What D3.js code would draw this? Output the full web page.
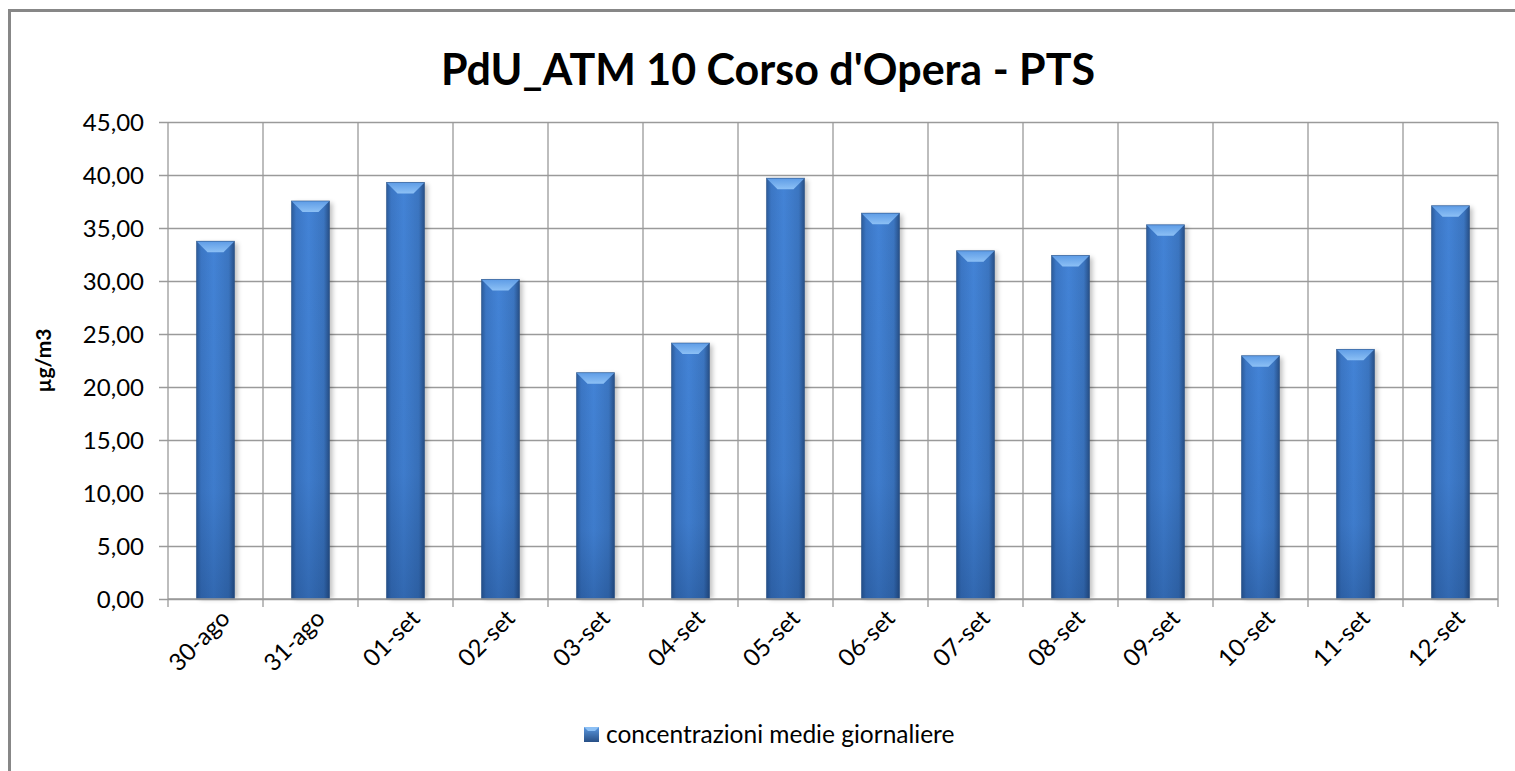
<!DOCTYPE html>
<html lang="it">
<head>
<meta charset="UTF-8">
<title>PdU_ATM 10 Corso d'Opera - PTS</title>
<script src="https://d3js.org/d3.v7.min.js"></script>
<style>
  body { margin: 0; background: #fff; }
  text { font-family: Lato, "Open Sans", sans-serif; fill: #000; }
</style>
</head>
<body>
<div id="chart"></div>
<script>
const days = ["30-ago", "31-ago", "01-set", "02-set", "03-set", "04-set", "05-set",
              "06-set", "07-set", "08-set", "09-set", "10-set", "11-set", "12-set"];
const values = [33.75, 37.55, 39.3, 30.15, 21.35, 24.15, 39.7,
                36.4, 32.85, 32.4, 35.3, 22.95, 23.55, 37.1];
const yTicks = [0, 5, 10, 15, 20, 25, 30, 35, 40, 45];
const seriesName = "concentrazioni medie giornaliere";

const width = 1515, height = 771;
const plot = { left: 168, right: 1498, top: 122, bottom: 599 };

const svg = d3.select("#chart").append("svg")
    .attr("width", width)
    .attr("height", height);

const defs = svg.append("defs");

// horizontal shading of the bar body
const body = defs.append("linearGradient").attr("id", "barBody")
    .attr("x1", 0).attr("x2", 1).attr("y1", 0).attr("y2", 0);
body.append("stop").attr("offset", "0%").attr("stop-color", "#2c5b99");
body.append("stop").attr("offset", "12%").attr("stop-color", "#3b76c4");
body.append("stop").attr("offset", "45%").attr("stop-color", "#4383d6");
body.append("stop").attr("offset", "85%").attr("stop-color", "#3b75c0");
body.append("stop").attr("offset", "100%").attr("stop-color", "#274f86");

// darkening toward the base
const fade = defs.append("linearGradient").attr("id", "barFade")
    .attr("x1", 0).attr("x2", 0).attr("y1", 0).attr("y2", 1);
fade.append("stop").attr("offset", "0%").attr("stop-color", "#0a2a5a").attr("stop-opacity", 0);
fade.append("stop").attr("offset", "70%").attr("stop-color", "#0a2a5a").attr("stop-opacity", 0.08);
fade.append("stop").attr("offset", "100%").attr("stop-color", "#0a2a5a").attr("stop-opacity", 0.3);

// top bevel
const bevel = defs.append("linearGradient").attr("id", "barTop")
    .attr("x1", 0).attr("x2", 0).attr("y1", 0).attr("y2", 1);
bevel.append("stop").attr("offset", "0%").attr("stop-color", "#5e9ce6");
bevel.append("stop").attr("offset", "100%").attr("stop-color", "#8cc0f5");

const shadow = defs.append("filter").attr("id", "shadow")
    .attr("x", "-30%").attr("y", "-10%").attr("width", "160%").attr("height", "120%");
shadow.append("feGaussianBlur").attr("stdDeviation", 2.5);

// legend marker gradient
const mark = defs.append("linearGradient").attr("id", "markFill")
    .attr("x1", 0).attr("x2", 0).attr("y1", 0).attr("y2", 1);
mark.append("stop").attr("offset", "0%").attr("stop-color", "#5b98e0");
mark.append("stop").attr("offset", "100%").attr("stop-color", "#274f86");

// chart frame (left and top edges visible)
svg.append("path")
    .attr("d", `M9.5,${height} V10.5 H${width}`)
    .attr("fill", "none")
    .attr("stroke", "#878787")
    .attr("stroke-width", 3);

const x = d3.scaleBand()
    .domain(days)
    .range([plot.left, plot.right])
    .paddingInner(0.6)
    .paddingOuter(0.3);

const y = d3.scaleLinear()
    .domain([0, 45])
    .range([plot.bottom, plot.top]);

const gridColor = "#9a9a9a";

// horizontal gridlines + y axis labels
const yAxis = d3.axisLeft(y)
    .tickValues(yTicks)
    .tickSize(-(plot.right - plot.left))
    .tickPadding(0)
    .tickFormat(d => d3.format(".2f")(d).replace(".", ","));

const gy = svg.append("g")
    .attr("transform", `translate(${plot.left},0)`)
    .call(yAxis);
gy.select(".domain").remove();
gy.selectAll(".tick line")
    .attr("x1", -9)
    .attr("stroke", gridColor)
    .attr("stroke-width", 1.3);
gy.selectAll(".tick text")
    .attr("x", -24)
    .attr("dy", "0.34em")
    .style("font-size", "24px")
    .style("font-family", "Lato, sans-serif")
    .attr("fill", "#000");

// vertical gridlines at category boundaries
const bounds = d3.range(days.length + 1).map(i => plot.left + i * x.step());
svg.append("g").selectAll("line")
    .data(bounds)
    .join("line")
    .attr("x1", d => d).attr("x2", d => d)
    .attr("y1", plot.top).attr("y2", plot.bottom + 8)
    .attr("stroke", gridColor)
    .attr("stroke-width", 1.3);

// bars
const bars = svg.append("g").selectAll("g")
    .data(days.map((d, i) => ({ day: d, v: values[i] })))
    .join("g");

bars.append("rect")
    .attr("x", d => x(d.day) + 3)
    .attr("y", d => y(d.v) + 2)
    .attr("width", x.bandwidth())
    .attr("height", d => y(0) - y(d.v) - 2)
    .attr("fill", "#000")
    .attr("opacity", 0.25)
    .attr("filter", "url(#shadow)");

bars.append("rect")
    .attr("x", d => x(d.day))
    .attr("y", d => y(d.v))
    .attr("width", x.bandwidth())
    .attr("height", d => y(0) - y(d.v))
    .attr("fill", "url(#barBody)");

bars.append("rect")
    .attr("x", d => x(d.day))
    .attr("y", d => y(d.v))
    .attr("width", x.bandwidth())
    .attr("height", d => y(0) - y(d.v))
    .attr("fill", "url(#barFade)");

const bev = 11;
bars.append("path")
    .attr("d", d => {
        const x0 = x(d.day), x1 = x0 + x.bandwidth(), t = y(d.v);
        return `M${x0},${t} H${x1} L${x1 - bev},${t + bev} H${x0 + bev} Z`;
    })
    .attr("fill", "url(#barTop)");

bars.append("rect")
    .attr("x", d => x(d.day))
    .attr("y", d => y(d.v))
    .attr("width", x.bandwidth())
    .attr("height", d => y(0) - y(d.v))
    .attr("fill", "none")
    .attr("stroke", "#2a5288")
    .attr("stroke-width", 0.8)
    .attr("stroke-opacity", 0.7);

// axis line at zero
svg.append("line")
    .attr("x1", plot.left).attr("x2", plot.right)
    .attr("y1", plot.bottom).attr("y2", plot.bottom)
    .attr("stroke", gridColor)
    .attr("stroke-width", 1.3);

// x labels rotated
svg.append("g").selectAll("text")
    .data(days)
    .join("text")
    .attr("transform", d => `translate(${x(d) + x.bandwidth() / 2 + 10},${plot.bottom + 15}) rotate(-45)`)
    .attr("text-anchor", "end")
    .attr("dy", "0.35em")
    .style("font-size", "24px")
    .text(d => d);

// title
svg.append("text")
    .attr("x", 768)
    .attr("y", 85)
    .attr("text-anchor", "middle")
    .style("font-size", "43px")
    .style("font-weight", "bold")
    .text("PdU_ATM 10 Corso d'Opera - PTS");

// y axis title
svg.append("text")
    .attr("transform", `translate(51,${(plot.top + plot.bottom) / 2}) rotate(-90)`)
    .attr("text-anchor", "middle")
    .style("font-size", "21px")
    .style("font-weight", "bold")
    .text("µg/m3");

// legend
const lg = svg.append("g").attr("transform", "translate(584,727)");
lg.append("rect")
    .attr("width", 15).attr("height", 15)
    .attr("fill", "url(#markFill)");
lg.append("path")
    .attr("d", "M0,0 H15 L11,4 H4 Z")
    .attr("fill", "#8cc0f5");
lg.append("text")
    .attr("x", 22)
    .attr("y", 16)
    .style("font-size", "24.5px")
    .text(seriesName);
</script>
</body>
</html>
